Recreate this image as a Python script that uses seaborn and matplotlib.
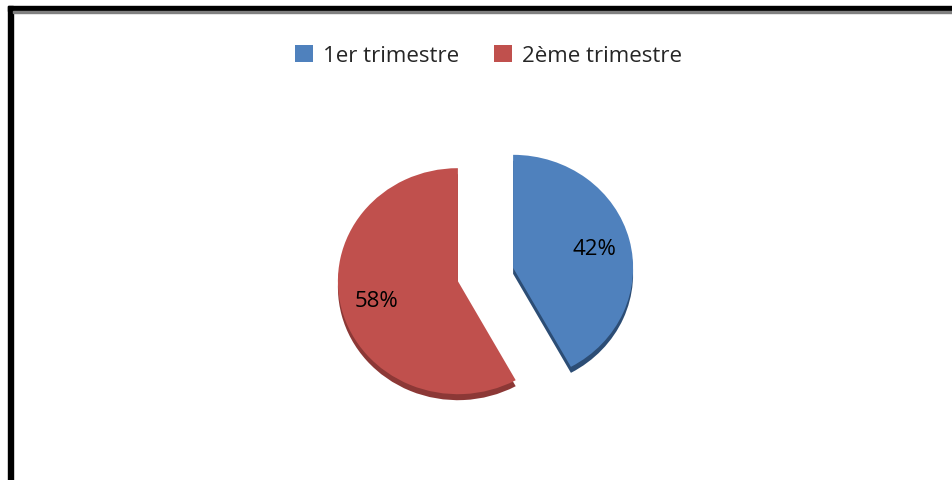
import matplotlib
matplotlib.use("Agg")
import matplotlib.pyplot as plt
import seaborn as sns
from matplotlib.patches import Rectangle

categories = ["1er trimestre", "2ème trimestre"]
values = [42, 58]
colors = ["#4F81BD", "#C0504D"]
side_colors = ["#2C4D75", "#8C3836"]

sns.set_theme(style="white")
plt.rcParams['font.family'] = ['Open Sans', 'DejaVu Sans']

W, H = 952, 481
fig = plt.figure(figsize=(W / 100, H / 100), dpi=100)
fig.patch.set_facecolor("white")
ax = fig.add_axes([0, 0, 1, 1])

ys = 113 / 120  # vertical squash (3D tilt look)
cx, cy, r = 485.5, (H - 275.5) / ys, 120
depth = 6 / ys
common = dict(startangle=90, counterclock=False, explode=[28.5, 28.5], radius=r,
              wedgeprops=dict(linewidth=0))
# side (depth) of the 3D pie
ax.pie(values, colors=side_colors, center=(cx, cy - depth), **common)
wedges, texts, autotexts = ax.pie(
    values, colors=colors, center=(cx, cy),
    autopct=lambda p: f"{p:.0f}%", pctdistance=0.7,
    textprops=dict(fontsize=16, color="black"), **common,
)
ax.set_xlim(0, W)
ax.set_ylim(0, H / ys)
ax.set_aspect("auto")
ax.axis("off")

leg = ax.legend(wedges, categories, loc="upper center", bbox_to_anchor=(0.513, 1 - 26 / H),
                ncol=2, frameon=False, fontsize=16, handlelength=0.8, handleheight=0.8,
                columnspacing=1.6, handletextpad=0.45)

# border lines (left and top)
fig.patches.append(Rectangle((8 / W, 0), 5 / W, (H - 7) / H, transform=fig.transFigure,
                             color="black", zorder=10))
fig.patches.append(Rectangle((8 / W, (H - 12) / H), (W - 8) / W, 5 / H, transform=fig.transFigure,
                             color="black", zorder=10))
fig.patches.append(Rectangle((13 / W, (H - 14) / H), (W - 13) / W, 2 / H, transform=fig.transFigure,
                             color="#808080", zorder=10))

fig.savefig("out.png", dpi=100)
